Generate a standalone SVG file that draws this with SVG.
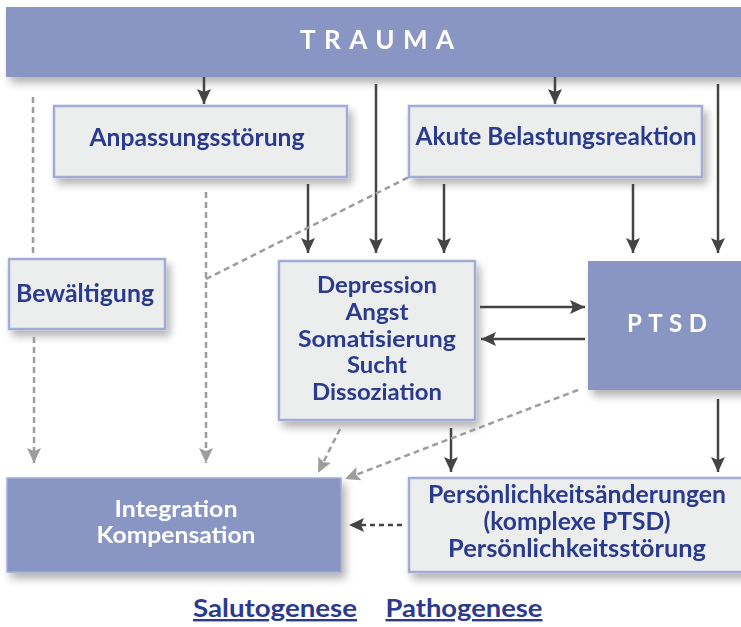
<svg xmlns="http://www.w3.org/2000/svg" width="741" height="627" viewBox="0 0 741 627">
<defs>
<filter id="sh" x="-10%" y="-10%" width="130%" height="140%">
<feGaussianBlur in="SourceAlpha" stdDeviation="4"/>
<feOffset dx="4" dy="6" result="b"/>
<feComponentTransfer><feFuncA type="linear" slope="0.3"/></feComponentTransfer>
<feMerge><feMergeNode/><feMergeNode in="SourceGraphic"/></feMerge>
</filter>
<marker id="ad" markerUnits="userSpaceOnUse" markerWidth="16" markerHeight="14" refX="15" refY="7" orient="auto">
<path d="M0,0 L15,7 L0,14 L3,7 Z" fill="#444"/>
</marker>
<marker id="ag" markerUnits="userSpaceOnUse" markerWidth="16" markerHeight="14" refX="15" refY="7" orient="auto">
<path d="M0,0 L15,7 L0,14 L3,7 Z" fill="#9d9d9d"/>
</marker>
</defs>
<style>
.lt{fill:#eceeee;stroke:#a3acd6;stroke-width:2.5}
.bl{fill:#8995c3}
.t{font-family:Lato,"Liberation Sans",sans-serif;font-weight:bold;font-size:24px;fill:#2b3a8e;text-anchor:middle}
.s{font-size:22px}
.w{fill:#fff}
.d{stroke:#444;stroke-width:2.5;fill:none;marker-end:url(#ad)}
.dd{stroke:#444;stroke-width:2.5;fill:none;stroke-dasharray:5 4;marker-end:url(#ad)}
.g{stroke:#9d9d9d;stroke-width:2.5;fill:none;stroke-dasharray:6 4}
.ga{stroke:#9d9d9d;stroke-width:2.5;fill:none;stroke-dasharray:6 4;marker-end:url(#ag)}
</style>
<rect width="741" height="627" fill="#fff"/>
<g id="trauma" filter="url(#sh)">
<rect class="bl" x="6" y="7" width="740" height="70"/>
<text class="t w" x="300" y="49" textLength="154" lengthAdjust="spacing" style="text-anchor:start;font-size:26px">TRAUMA</text>
</g>
<g id="anpassung" filter="url(#sh)">
<rect class="lt" x="54" y="106" width="293" height="71"/>
<text class="t" x="197" y="146" textLength="215" lengthAdjust="spacingAndGlyphs">Anpassungsstörung</text>
</g>
<g id="akute" filter="url(#sh)">
<rect class="lt" x="409" y="106" width="293" height="71"/>
<text class="t" x="556" y="145" textLength="281" lengthAdjust="spacingAndGlyphs">Akute Belastungsreaktion</text>
</g>
<g id="bewaeltigung" filter="url(#sh)">
<rect class="lt" x="9" y="259" width="156" height="70"/>
<text class="t" x="85" y="302" textLength="138" lengthAdjust="spacingAndGlyphs">Bewältigung</text>
</g>
<g id="depression" filter="url(#sh)">
<rect class="lt" x="279" y="261" width="196" height="159"/>
<text class="t s" x="377" y="293" textLength="120" lengthAdjust="spacingAndGlyphs">Depression</text>
<text class="t s" x="377" y="320" textLength="63" lengthAdjust="spacingAndGlyphs">Angst</text>
<text class="t s" x="377" y="347" textLength="158" lengthAdjust="spacingAndGlyphs">Somatisierung</text>
<text class="t s" x="377" y="373" textLength="60" lengthAdjust="spacingAndGlyphs">Sucht</text>
<text class="t s" x="377" y="400" textLength="130" lengthAdjust="spacingAndGlyphs">Dissoziation</text>
</g>
<g id="ptsd" filter="url(#sh)">
<rect class="bl" x="588" y="261" width="160" height="129"/>
<text class="t w" x="627" y="332" textLength="80" lengthAdjust="spacing" style="text-anchor:start">PTSD</text>
</g>
<g id="integration" filter="url(#sh)">
<rect class="bl" x="7" y="478" width="334" height="94" stroke="#a3acd6" stroke-width="1.5"/>
<text class="t s w" x="176" y="517" textLength="123" lengthAdjust="spacingAndGlyphs">Integration</text>
<text class="t s w" x="176" y="543" textLength="159" lengthAdjust="spacingAndGlyphs">Kompensation</text>
</g>
<g id="persoenlichkeit" filter="url(#sh)">
<rect class="lt" x="409" y="478" width="340" height="94"/>
<text class="t" x="577" y="503" textLength="298" lengthAdjust="spacingAndGlyphs">Persönlichkeitsänderungen</text>
<text class="t" x="577" y="530" textLength="187" lengthAdjust="spacingAndGlyphs">(komplexe PTSD)</text>
<text class="t" x="577" y="557" textLength="258" lengthAdjust="spacingAndGlyphs">Persönlichkeitsstörung</text>
</g>
<g id="legend">
<text class="t" x="275" y="617" textLength="164" lengthAdjust="spacingAndGlyphs" text-decoration="underline">Salutogenese</text>
<text class="t" x="464" y="617" textLength="157" lengthAdjust="spacingAndGlyphs" text-decoration="underline">Pathogenese</text>
</g>
<g id="connectors">
<path class="d" d="M204,77 V104"/>
<path class="d" d="M555,77 V104"/>
<path class="d" d="M376,84 V253"/>
<path class="d" d="M718,84 V253"/>
<path class="d" d="M308,184 V253"/>
<path class="d" d="M444,184 V253"/>
<path class="d" d="M633,184 V253"/>
<path class="d" d="M480,307 H585"/>
<path class="d" d="M585,339 H481"/>
<path class="d" d="M451,428 V472"/>
<path class="d" d="M718,399 V472"/>
<path class="dd" d="M402,525 H349"/>
<path class="g" d="M33,97 V253"/>
<path class="ga" d="M34,337 V463"/>
<path class="ga" d="M206,192 V463"/>
<path class="g" d="M206,279 L409,177"/>
<path class="ga" d="M340,429 L318,473"/>
<path class="ga" d="M578,390 L345,479"/>
</g>
</svg>
